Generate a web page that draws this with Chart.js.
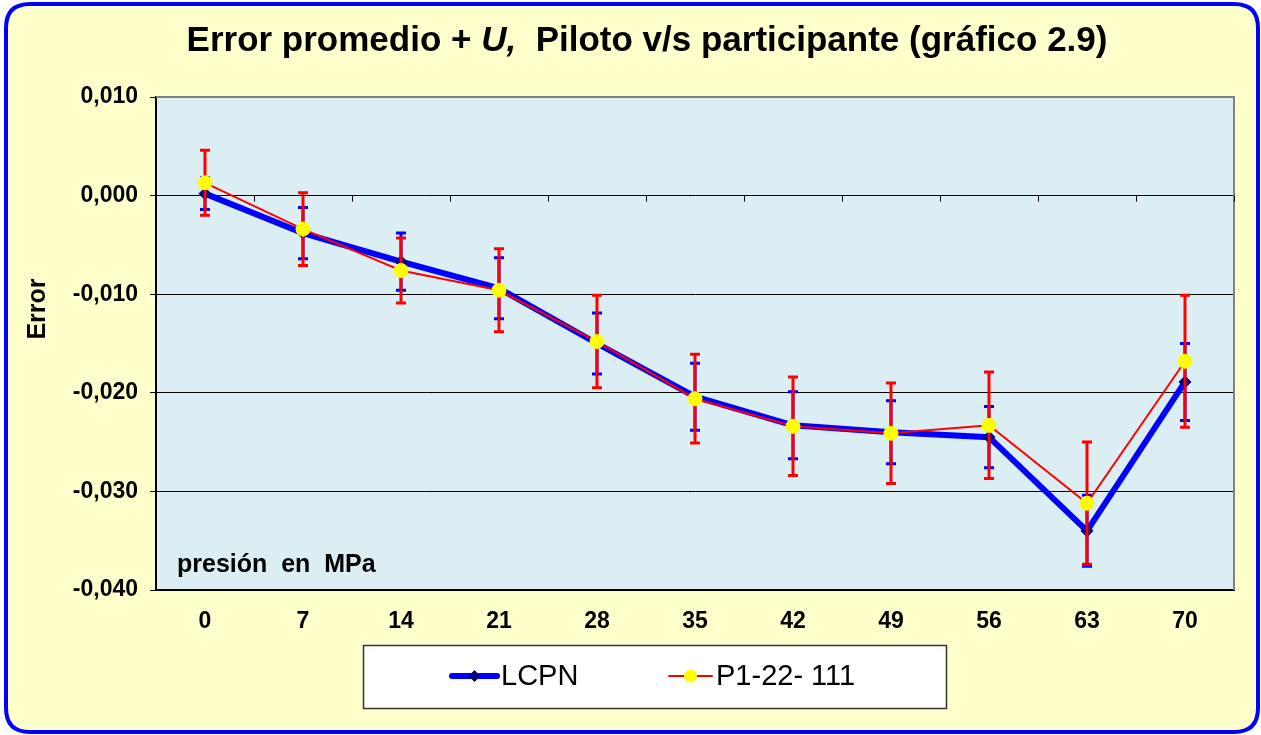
<!DOCTYPE html>
<html><head><meta charset="utf-8">
<script src="https://cdn.jsdelivr.net/npm/chart.js@4.4.0/dist/chart.umd.min.js"></script>
<style>html,body{margin:0;padding:0;background:#fff;overflow:hidden}#wrap{width:1261px;height:735px;position:relative}</style>
</head><body><div id="wrap"><canvas id="c" width="1261" height="735"></canvas></div>
<script>
// ---- data ----
const categories = ['0','7','14','21','28','35','42','49','56','63','70'];
const lcpnLabel = 'LCPN';
const lcpnValues = [0.0002, -0.0038, -0.0067, -0.0094, -0.0150, -0.0204, -0.0233, -0.0240, -0.0245, -0.0340, -0.0189];
const lcpnU      = [0.0016, 0.0026, 0.0029, 0.0031, 0.0031, 0.0034, 0.0034, 0.0032, 0.0031, 0.0036, 0.0039];
const p1Label = 'P1-22- 111';
const p1Values = [0.0013, -0.0034, -0.0076, -0.0096, -0.0148, -0.0206, -0.0234, -0.0241, -0.0233, -0.0312, -0.0168];
const p1U      = [0.0033, 0.0037, 0.0033, 0.0042, 0.0047, 0.0045, 0.0050, 0.0051, 0.0054, 0.0062, 0.0067];
const yMin = -0.04, yMax = 0.01, yStep = 0.01;
const titleParts = [['Error promedio + ', false], ['U,', true], ['  Piloto v/s participante (gráfico 2.9)', false]];
const yTitle = 'Error';
const xNote = 'presión  en  MPa';

const FONT = "'Liberation Sans', Arial, sans-serif";
const errorSets = [lcpnU, p1U];
const errorColors = ['#0000FF', '#FF0000'];

const errorBars = {
  id: 'errorBars',
  beforeDatasetDraw(chart, args) {
    const i = args.index;
    const ds = chart.data.datasets[i];
    const u = errorSets[i];
    const ys = chart.scales.y;
    const ctx = chart.ctx;
    ctx.save();
    ctx.strokeStyle = errorColors[i];
    ctx.lineWidth = 3;
    args.meta.data.forEach((pt, k) => {
      const v = ds.data[k];
      const t = ys.getPixelForValue(v + u[k]);
      const b = ys.getPixelForValue(v - u[k]);
      ctx.beginPath();
      ctx.moveTo(pt.x, t); ctx.lineTo(pt.x, b);
      ctx.moveTo(pt.x - 5, t); ctx.lineTo(pt.x + 5, t);
      ctx.moveTo(pt.x - 5, b); ctx.lineTo(pt.x + 5, b);
      ctx.stroke();
    });
    ctx.restore();
  }
};

function rr(ctx, x, y, w, h, r) {
  ctx.beginPath();
  ctx.moveTo(x + r, y);
  ctx.lineTo(x + w - r, y); ctx.quadraticCurveTo(x + w, y, x + w, y + r);
  ctx.lineTo(x + w, y + h - r); ctx.quadraticCurveTo(x + w, y + h, x + w - r, y + h);
  ctx.lineTo(x + r, y + h); ctx.quadraticCurveTo(x, y + h, x, y + h - r);
  ctx.lineTo(x, y + r); ctx.quadraticCurveTo(x, y, x + r, y);
  ctx.closePath();
}

const frame = {
  id: 'frame',
  beforeDraw(chart) {
    const ctx = chart.ctx, a = chart.chartArea;
    ctx.save();
    ctx.fillStyle = '#FFFFFF'; ctx.fillRect(0, 0, chart.width, chart.height);
    rr(ctx, 6, 4, 1252, 728, 24);
    ctx.fillStyle = '#FFFFCC'; ctx.fill();
    ctx.lineWidth = 4; ctx.strokeStyle = '#0000FF'; ctx.stroke();
    ctx.fillStyle = '#DBEEF4';
    ctx.fillRect(a.left, a.top, a.right - a.left, a.bottom - a.top);
    ctx.restore();
  },
  beforeDatasetsDraw(chart) {
    const ctx = chart.ctx, a = chart.chartArea, xs = chart.scales.x, ys = chart.scales.y;
    ctx.save();
    ctx.strokeStyle = '#808080'; ctx.lineWidth = 2;
    ctx.beginPath();
    ctx.moveTo(a.left, a.top); ctx.lineTo(a.right, a.top); ctx.lineTo(a.right, a.bottom);
    ctx.stroke();
    // category tick marks on the zero line
    const y0 = ys.getPixelForValue(0);
    ctx.strokeStyle = '#000'; ctx.lineWidth = 1;
    ctx.beginPath();
    for (let i = 0; i < categories.length; i++) {
      const c = xs.getPixelForValue(i);
      const next = i < categories.length - 1 ? xs.getPixelForValue(i + 1) : c + (c - xs.getPixelForValue(i - 1));
      const bx = Math.round((c + next) / 2) + 0.5;
      ctx.moveTo(bx, y0); ctx.lineTo(bx, y0 + 6);
    }
    ctx.stroke();
    ctx.restore();
  },
  afterDraw(chart) {
    const ctx = chart.ctx, a = chart.chartArea;
    ctx.save();
    ctx.fillStyle = '#000';
    // title
    const tsize = 35;
    const fontN = 'bold ' + tsize + 'px ' + FONT, fontI = 'italic bold ' + tsize + 'px ' + FONT;
    let total = 0;
    titleParts.forEach(([t, it]) => { ctx.font = it ? fontI : fontN; total += ctx.measureText(t).width; });
    let x = 647 - total / 2;
    ctx.textBaseline = 'middle'; ctx.textAlign = 'left';
    titleParts.forEach(([t, it]) => { ctx.font = it ? fontI : fontN; ctx.fillText(t, x, 41); x += ctx.measureText(t).width; });
    // y title
    ctx.save();
    ctx.translate(38, 309); ctx.rotate(-Math.PI / 2);
    ctx.font = 'bold 25px ' + FONT; ctx.textAlign = 'center';
    ctx.fillText(yTitle, 0, 0);
    ctx.restore();
    // note inside plot
    ctx.font = 'bold 25px ' + FONT; ctx.textAlign = 'left'; ctx.textBaseline = 'alphabetic';
    ctx.fillText(xNote, 177, 572);
    // legend
    ctx.fillStyle = '#FFFFFF'; ctx.fillRect(363, 645, 584, 64);
    ctx.strokeStyle = '#333'; ctx.lineWidth = 1.5; ctx.strokeRect(363.5, 645.5, 583, 63);
    const ly = 676;
    const items = [
      {x1: 452, x2: 497, tx: 501},
      {x1: 669, x2: 712, tx: 716}
    ];
    chart.data.datasets.forEach((ds, i) => {
      const it = items[i];
      ctx.strokeStyle = ds.borderColor; ctx.lineWidth = ds.borderWidth; ctx.lineCap = 'round';
      ctx.beginPath(); ctx.moveTo(it.x1, ly); ctx.lineTo(it.x2, ly); ctx.stroke();
      ctx.lineCap = 'butt';
      const cx = (it.x1 + it.x2) / 2;
      ctx.fillStyle = ds.pointBackgroundColor;
      ctx.beginPath();
      if (ds.pointStyle === 'rectRot') {
        const r = 6; ctx.moveTo(cx, ly - r); ctx.lineTo(cx + r, ly); ctx.lineTo(cx, ly + r); ctx.lineTo(cx - r, ly); ctx.closePath();
      } else {
        ctx.arc(cx, ly, 6.5, 0, Math.PI * 2);
      }
      ctx.fill();
      ctx.fillStyle = '#000'; ctx.font = '29px ' + FONT; ctx.textBaseline = 'middle'; ctx.textAlign = 'left';
      ctx.fillText(ds.label, it.tx, ly + 1);
    });
    ctx.restore();
  }
};

new Chart(document.getElementById('c'), {
  type: 'line',
  data: {
    labels: categories,
    datasets: [
      {
        label: lcpnLabel, data: lcpnValues, order: 1,
        borderColor: '#0000FF', borderWidth: 6, tension: 0,
        pointStyle: 'rectRot', pointRadius: 6, pointBackgroundColor: '#000080', pointBorderColor: '#000080', pointBorderWidth: 1
      },
      {
        label: p1Label, data: p1Values, order: 0,
        borderColor: '#FF0000', borderWidth: 2, tension: 0,
        pointStyle: 'circle', pointRadius: 7, pointBackgroundColor: '#FFFF00', pointBorderColor: '#FFFF00', pointBorderWidth: 1
      }
    ]
  },
  options: {
    responsive: false, animation: false, devicePixelRatio: 1,
    layout: { padding: { left: 0, right: 27, top: 97, bottom: 0 } },
    plugins: { legend: { display: false }, title: { display: false }, tooltip: { enabled: false } },
    scales: {
      x: {
        type: 'category', offset: true,
        grid: { display: true, drawOnChartArea: false, drawTicks: false, offset: true },
        border: { display: true, color: '#000', width: 2 },
        ticks: { color: '#000', font: { family: FONT, size: 23, weight: 'bold' }, padding: 18, maxRotation: 0 },
        afterFit(s) { s.height = 145; }
      },
      y: {
        min: yMin, max: yMax,
        grid: { color: '#000', lineWidth: 1, tickLength: 6, drawTicks: true },
        border: { display: true, color: '#000', width: 2 },
        ticks: {
          stepSize: yStep, color: '#000', padding: 12,
          font: { family: FONT, size: 23, weight: 'bold' },
          callback: v => v.toFixed(3).replace('.', ',')
        },
        afterFit(s) { s.width = 156; }
      }
    }
  },
  plugins: [frame, errorBars]
});
</script>
</body></html>
